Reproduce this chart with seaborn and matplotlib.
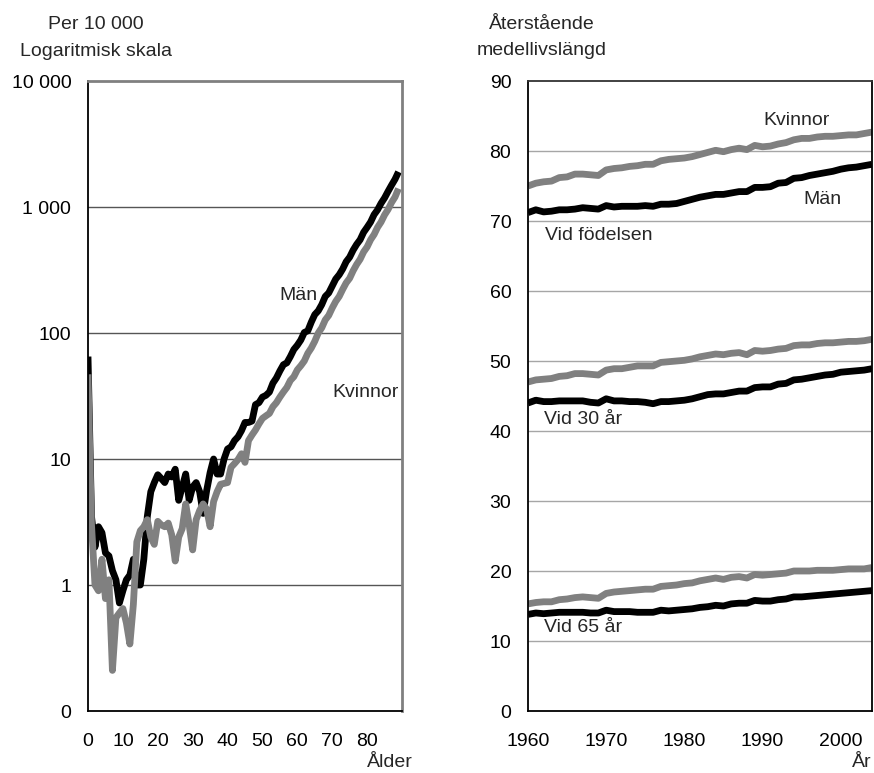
import numpy as np
import pandas as pd
import matplotlib
matplotlib.use("Agg")
import matplotlib.pyplot as plt
from matplotlib.ticker import FixedLocator, NullLocator
import seaborn as sns

# ---------------- data: left chart (dödlighet per 10 000, log scale) ----------------
ages = list(range(0, 90))
men_mort = [65, 3.5, 2.0, 2.9, 2.6, 1.8, 1.7, 1.3, 1.1, 0.72,
            0.9, 1.1, 1.2, 1.6, 1.0, 1.0, 1.6, 3.5, 5.5, 6.5,
            7.5, 7.0, 6.5, 7.6, 7.2, 8.3, 4.7, 6.0, 7.6, 4.7,
            6.0, 6.5, 5.5, 3.7, 5.6, 7.8, 10.0, 7.6, 7.6, 10.0,
            12.0, 12.5, 14.0, 15.0, 16.8, 19.5, 19.5, 20.0, 27.0, 28.0,
            31.0, 32.0, 34.0, 40.0, 44.0, 50.0, 56.0, 58.0, 65.0, 74.0,
            80.0, 88.0, 101.0, 104.0, 122.0, 140.0, 150.0, 168.0, 195.0, 208.0,
            236.0, 268.0, 290.0, 322.0, 368.0, 400.0, 455.0, 505.0, 550.0, 630.0,
            690.0, 760.0, 870.0, 950.0, 1070.0, 1180.0, 1330.0, 1490.0, 1660.0, 1900.0]
women_mort = [47, 3.0, 1.0, 0.9, 1.6, 0.78, 1.1, 0.21, 0.55, 0.6,
              0.65, 0.5, 0.34, 0.7, 2.2, 2.7, 2.9, 3.3, 2.4, 2.1,
              3.2, 3.0, 2.9, 3.1, 2.5, 1.55, 2.4, 2.8, 4.4, 3.0,
              1.9, 3.3, 3.9, 4.4, 4.0, 2.9, 4.6, 5.5, 6.3, 6.4,
              6.5, 8.6, 9.2, 9.9, 11.0, 9.4, 14.0, 15.5, 17.0, 19.0,
              21.0, 22.0, 23.0, 26.0, 28.0, 31.0, 34.0, 37.0, 42.0, 45.0,
              51.0, 55.0, 60.0, 69.0, 76.0, 86.0, 100.0, 110.0, 127.0, 138.0,
              158.0, 178.0, 195.0, 222.0, 250.0, 272.0, 312.0, 350.0, 385.0, 440.0,
              482.0, 550.0, 605.0, 690.0, 760.0, 865.0, 955.0, 1085.0, 1200.0, 1400.0]

# ---------------- data: right chart (återstående medellivslängd) ----------------
years = list(range(1960, 2005))
men_e0 = [71.2, 71.6, 71.3, 71.4, 71.6, 71.6, 71.7, 71.9, 71.8, 71.7,
          72.2, 72.0, 72.1, 72.1, 72.1, 72.2, 72.1, 72.4, 72.4, 72.5,
          72.8, 73.1, 73.4, 73.6, 73.8, 73.8, 74.0, 74.2, 74.2, 74.8,
          74.8, 74.9, 75.4, 75.5, 76.1, 76.2, 76.5, 76.7, 76.9, 77.1,
          77.4, 77.6, 77.7, 77.9, 78.1]
women_e0 = [75.0, 75.4, 75.6, 75.7, 76.2, 76.3, 76.7, 76.7, 76.6, 76.5,
            77.3, 77.5, 77.6, 77.8, 77.9, 78.1, 78.1, 78.6, 78.8, 78.9,
            79.0, 79.2, 79.5, 79.8, 80.1, 79.9, 80.2, 80.4, 80.2, 80.8,
            80.6, 80.7, 81.0, 81.2, 81.6, 81.8, 81.8, 82.0, 82.1, 82.1,
            82.2, 82.3, 82.3, 82.5, 82.7]
men_e30 = [44.0, 44.4, 44.2, 44.2, 44.3, 44.3, 44.3, 44.3, 44.1, 44.0,
           44.6, 44.3, 44.3, 44.2, 44.2, 44.1, 43.9, 44.2, 44.2, 44.3,
           44.4, 44.6, 44.9, 45.2, 45.3, 45.3, 45.5, 45.7, 45.7, 46.2,
           46.3, 46.3, 46.7, 46.8, 47.3, 47.4, 47.6, 47.8, 48.0, 48.1,
           48.4, 48.5, 48.6, 48.7, 48.9]
women_e30 = [47.0, 47.3, 47.4, 47.5, 47.8, 47.9, 48.2, 48.2, 48.1, 48.0,
             48.7, 48.9, 48.9, 49.1, 49.3, 49.3, 49.3, 49.8, 49.9, 50.0,
             50.1, 50.3, 50.6, 50.8, 51.0, 50.9, 51.1, 51.2, 50.9, 51.5,
             51.4, 51.5, 51.7, 51.8, 52.2, 52.3, 52.3, 52.5, 52.6, 52.6,
             52.7, 52.8, 52.8, 52.9, 53.1]
men_e65 = [13.8, 14.0, 13.9, 14.0, 14.1, 14.1, 14.1, 14.1, 14.0, 14.0,
           14.4, 14.2, 14.2, 14.2, 14.1, 14.1, 14.1, 14.4, 14.3, 14.4,
           14.5, 14.6, 14.8, 14.9, 15.1, 15.0, 15.3, 15.4, 15.4, 15.8,
           15.7, 15.7, 15.9, 16.0, 16.3, 16.3, 16.4, 16.5, 16.6, 16.7,
           16.8, 16.9, 17.0, 17.1, 17.2]
women_e65 = [15.3, 15.5, 15.6, 15.6, 15.9, 16.0, 16.2, 16.3, 16.2, 16.1,
             16.8, 17.0, 17.1, 17.2, 17.3, 17.4, 17.4, 17.8, 17.9, 18.0,
             18.2, 18.3, 18.6, 18.8, 19.0, 18.8, 19.1, 19.2, 19.0, 19.5,
             19.4, 19.5, 19.6, 19.7, 20.0, 20.0, 20.0, 20.1, 20.1, 20.1,
             20.2, 20.3, 20.3, 20.3, 20.5]

left_yticks = [0.1, 1, 10, 100, 1000, 10000]
left_ytick_labels = ["0", "1", "10", "100", "1 000", "10 000"]
left_xticks = [0, 10, 20, 30, 40, 50, 60, 70, 80, 90]
left_xtick_labels = ["0", "10", "20", "30", "40", "50", "60", "70", "80", ""]
right_yticks = [0, 10, 20, 30, 40, 50, 60, 70, 80, 90]
right_xticks = [1960, 1970, 1980, 1990, 2000]

# ---------------- styling ----------------
sns.set_style("white")
plt.rcParams["font.family"] = ["Liberation Sans", "DejaVu Sans"]
plt.rcParams["font.size"] = 14

W, H = 874, 773
fig = plt.figure(figsize=(W / 100, H / 100), dpi=100)
fig.patch.set_facecolor("white")

def ax_rect(x0, y0, x1, y1):
    return [x0 / W, 1 - y1 / H, (x1 - x0) / W, (y1 - y0) / H]

axL = fig.add_axes(ax_rect(88, 81, 402, 711))
axR = fig.add_axes(ax_rect(528, 81, 872, 711))

pal = {"Män": "black", "Kvinnor": "#808080"}
LW = 4.9

# left chart
dfL = pd.concat([
    pd.DataFrame({"Ålder": ages, "Per 10 000": men_mort, "Kön": "Män"}),
    pd.DataFrame({"Ålder": ages, "Per 10 000": women_mort, "Kön": "Kvinnor"}),
])
sns.lineplot(data=dfL, x="Ålder", y="Per 10 000", hue="Kön", palette=pal,
             hue_order=["Män", "Kvinnor"], linewidth=LW, legend=False, ax=axL,
             estimator=None, sort=False)
for ln in axL.lines:
    ln.set_solid_joinstyle("round")
    ln.set_solid_capstyle("butt")

axL.set_yscale("log")
axL.set_ylim(0.1, 10000)
axL.set_xlim(0, 90)
axL.yaxis.set_major_locator(FixedLocator(left_yticks))
axL.yaxis.set_minor_locator(NullLocator())
axL.set_yticklabels(left_ytick_labels)
axL.set_xticks(left_xticks)
axL.set_xticklabels(left_xtick_labels)
axL.set_xlabel("")
axL.set_ylabel("")
axL.grid(False)
for v in left_yticks[1:-1]:
    axL.axhline(v, color="#555555", lw=1.0, zorder=0.5)

# right chart
groups = [("Män", "födelsen", men_e0), ("Kvinnor", "födelsen", women_e0),
          ("Män", "30", men_e30), ("Kvinnor", "30", women_e30),
          ("Män", "65", men_e65), ("Kvinnor", "65", women_e65)]
dfR = pd.concat([
    pd.DataFrame({"År": years, "Medellivslängd": vals, "Kön": sex, "Grupp": sex + g})
    for sex, g, vals in groups
])
sns.lineplot(data=dfR, x="År", y="Medellivslängd", hue="Kön", units="Grupp",
             estimator=None, palette=pal, hue_order=["Män", "Kvinnor"],
             linewidth=LW, legend=False, ax=axR)
for ln in axR.lines:
    ln.set_solid_joinstyle("round")
    ln.set_solid_capstyle("butt")

axR.set_ylim(0, 90)
axR.set_xlim(1960, 2004)
axR.set_yticks(right_yticks)
axR.set_xticks(right_xticks)
axR.set_xlabel("")
axR.set_ylabel("")
axR.grid(False)
for v in right_yticks[1:-1]:
    axR.axhline(v, color="#a6a6a6", lw=1.0, zorder=0.5)

# spines and ticks
for ax in (axL, axR):
    for s in ax.spines.values():
        s.set_visible(True)
        s.set_linewidth(1.3)
        s.set_color("black")
    ax.tick_params(axis="both", which="major", direction="out", length=5,
                   width=1, color="black", labelsize=14, labelcolor="black")
    ax.tick_params(axis="y", pad=7)
    ax.tick_params(axis="x", pad=11)
    ax.set_facecolor("white")
axL.spines["top"].set_color("#808080")
axL.spines["right"].set_color("#808080")
axL.spines["top"].set_linewidth(2)
axL.spines["right"].set_linewidth(2)
axR.spines["top"].set_color("#333333")

# header texts
def ftext(x, y, s, **kw):
    fig.text(x / W, 1 - y / H, s, fontsize=14, **kw)

ftext(96, 29, "Per 10 000", ha="center", va="baseline")
ftext(96, 56, "Logaritmisk skala", ha="center", va="baseline")
ftext(542, 29, "Återstående", ha="center", va="baseline")
ftext(542, 55, "medellivslängd", ha="center", va="baseline")
ftext(413, 767, "Ålder", ha="right", va="baseline")
ftext(872, 767, "År", ha="right", va="baseline")

# in-chart labels
axL.text(60.2, 197, "Män", ha="center", va="center", fontsize=14)
axL.text(79.5, 34, "Kvinnor", ha="center", va="center", fontsize=14)
axR.text(1994.3, 84.4, "Kvinnor", ha="center", va="center", fontsize=14)
axR.text(1997.6, 73.1, "Män", ha="center", va="center", fontsize=14)
axR.text(1962.2, 67.9, "Vid födelsen", ha="left", va="center", fontsize=14)
axR.text(1962.0, 41.7, "Vid 30 år", ha="left", va="center", fontsize=14)
axR.text(1962.0, 12.0, "Vid 65 år", ha="left", va="center", fontsize=14)

fig.savefig("out.png", dpi=100, facecolor="white")
